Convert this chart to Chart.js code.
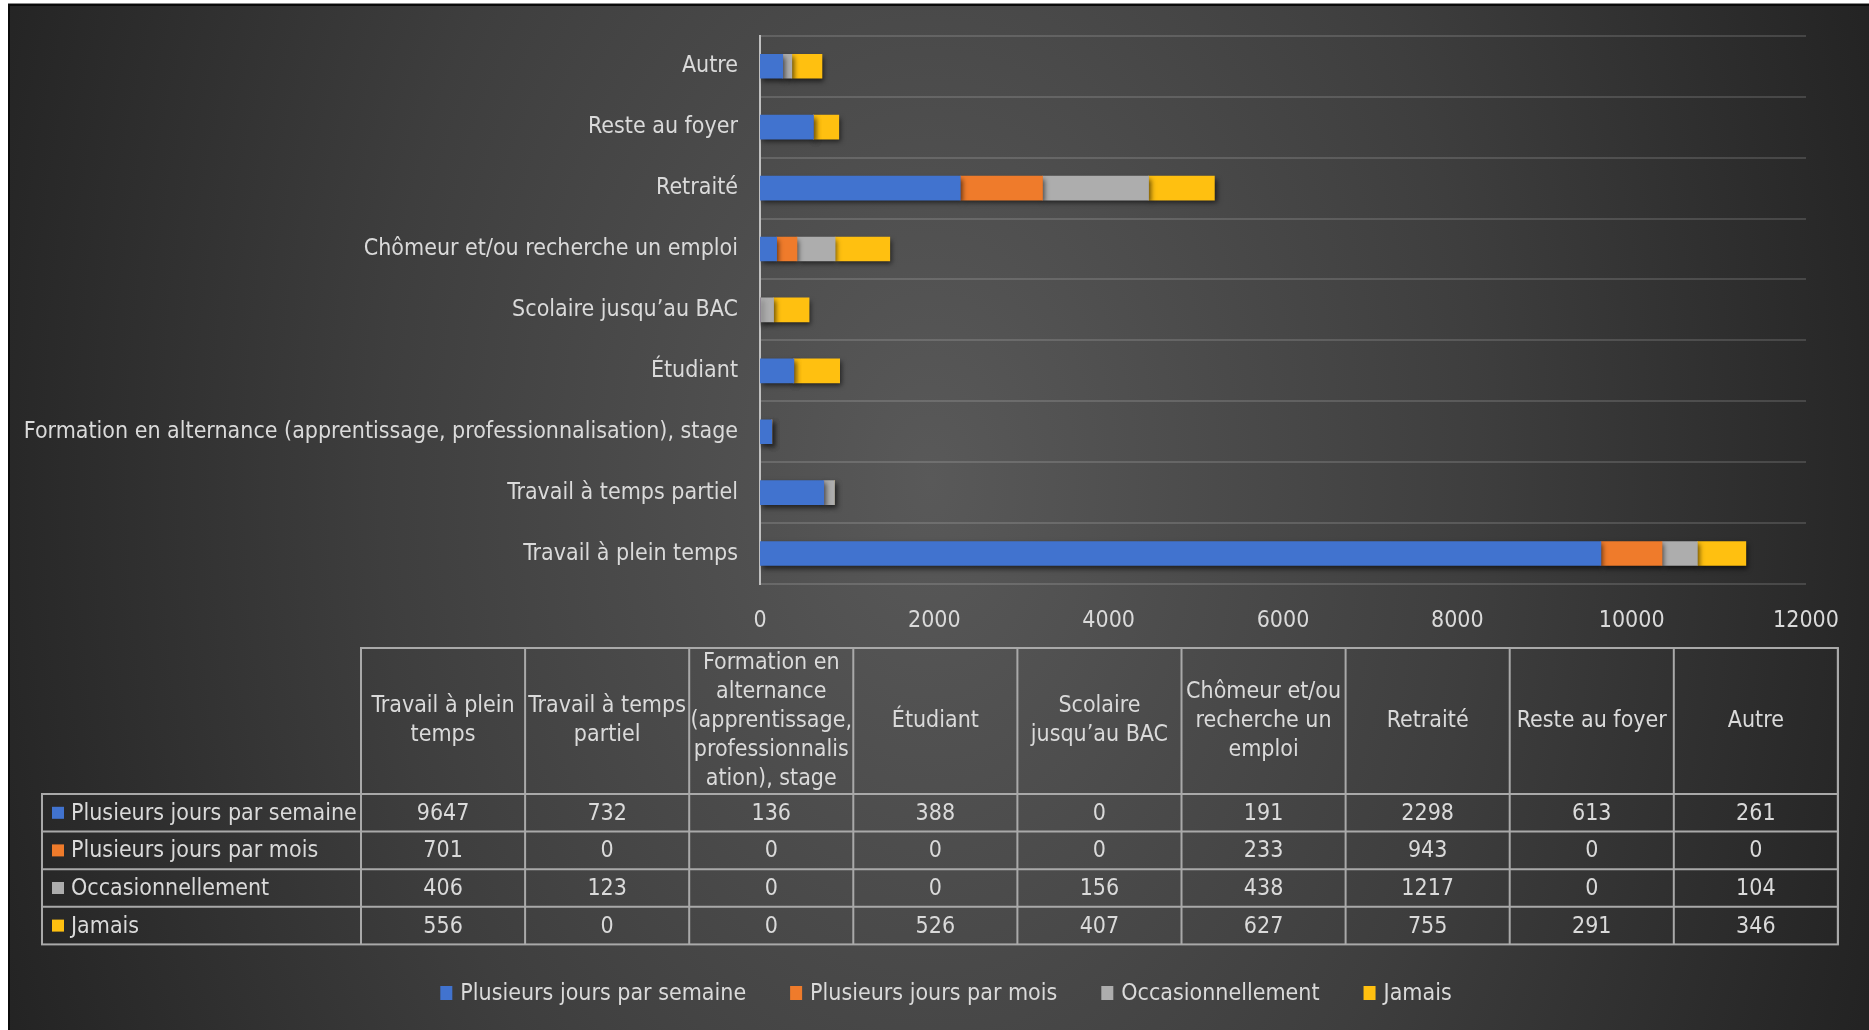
<!DOCTYPE html>
<html lang="fr">
<head>
<meta charset="utf-8">
<title>Fréquence selon la situation professionnelle</title>
<script src="https://cdn.jsdelivr.net/npm/chart.js@4.4.1/dist/chart.umd.min.js"></script>
<style>
  html, body { margin: 0; padding: 0; background: #fff; }
  #wrap { width: 1869px; height: 1030px; }
</style>
</head>
<body>
<div id="wrap"><canvas id="chart" width="1869" height="1030"></canvas></div>
<script>
'use strict';

/* --------------------------------------------------------------------------
   DATA
   -------------------------------------------------------------------------- */
const categories = [
    'Travail à plein temps',
    'Travail à temps partiel',
    'Formation en alternance (apprentissage, professionnalisation), stage',
    'Étudiant',
    'Scolaire jusqu’au BAC',
    'Chômeur et/ou recherche un emploi',
    'Retraité',
    'Reste au foyer',
    'Autre',
];
// header of the data table, wrapped the way the source wraps it
const tableHeaders = [
    ['Travail à plein', 'temps'],
    ['Travail à temps', 'partiel'],
    ['Formation en', 'alternance', '(apprentissage,', 'professionnalis', 'ation), stage'],
    ['Étudiant'],
    ['Scolaire', 'jusqu’au BAC'],
    ['Chômeur et/ou', 'recherche un', 'emploi'],
    ['Retraité'],
    ['Reste au foyer'],
    ['Autre'],
];
const seriesNames = ['Plusieurs jours par semaine', 'Plusieurs jours par mois', 'Occasionnellement', 'Jamais'];
const parSemaine = [9647, 732, 136, 388, 0, 191, 2298, 613, 261];
const parMois = [701, 0, 0, 0, 0, 233, 943, 0, 0];
const occasionnellement = [406, 123, 0, 0, 156, 438, 1217, 0, 104];
const jamais = [556, 0, 0, 526, 407, 627, 755, 291, 346];
const xTicks = [0, 2000, 4000, 6000, 8000, 10000, 12000];

const seriesValues = [parSemaine, parMois, occasionnellement, jamais];

/* --------------------------------------------------------------------------
   STYLE
   -------------------------------------------------------------------------- */
const FONT = "'DejaVu Sans Condensed', 'Liberation Sans Narrow', sans-serif";
const FONT_SIZE = 23;
const TEXT = '#dadada';
const COLORS = ['#4173CF', '#EF7B2B', '#ADADAD', '#FFC010'];
const LINE = '#a9a9a9';

// table / legend placement (px on the 1869x1030 canvas)
const TABLE = { left: 42, colLeft: 361, colW: 164.1, top: 648, headBottom: 794, rowH: 37.6, lineH: 29 };
const LEGEND = { cx: 946, y: 993, box: 12, gap: 8, spacing: 44 };

Chart.defaults.font.family = FONT;
Chart.defaults.font.size = FONT_SIZE;
Chart.defaults.color = TEXT;

/* --------------------------------------------------------------------------
   PLUGINS
   -------------------------------------------------------------------------- */
const backdrop = {
    id: 'backdrop',
    beforeDraw(chart) {
        const { ctx, width, height } = chart;
        ctx.save();
        ctx.fillStyle = '#ffffff';
        ctx.fillRect(0, 0, width, height);
        ctx.fillStyle = '#8a8a8a';
        ctx.fillRect(8, 3, width - 8, height - 3);
        ctx.fillStyle = '#0b0b0b';
        ctx.fillRect(8, 4, width - 8, height - 4);
        // soft radial light, wider than tall
        ctx.beginPath();
        ctx.rect(10, 6, width - 10, height - 6);
        ctx.clip();
        ctx.translate(930, 480);
        ctx.scale(1, 1.5);
        const g = ctx.createRadialGradient(0, 0, 0, 0, 0, 1000);
        g.addColorStop(0, '#595959');
        g.addColorStop(0.55, '#3e3e3e');
        g.addColorStop(1, '#232323');
        ctx.fillStyle = g;
        ctx.fillRect(-1000, -700, 2000, 1400);
        ctx.restore();
    },
};

const barShadow = {
    id: 'barShadow',
    beforeDatasetsDraw(chart) {
        const ctx = chart.ctx;
        ctx.save();
        ctx.shadowColor = 'rgba(0,0,0,0.6)';
        ctx.shadowBlur = 5;
        ctx.shadowOffsetX = 2;
        ctx.shadowOffsetY = 3;
    },
    afterDatasetsDraw(chart) {
        chart.ctx.restore();
    },
};

const dataTable = {
    id: 'dataTable',
    afterDraw(chart) {
        const ctx = chart.ctx;
        const t = TABLE;
        const nCol = categories.length;
        const right = t.colLeft + nCol * t.colW;
        const bottom = t.headBottom + seriesNames.length * t.rowH;

        ctx.save();
        ctx.strokeStyle = LINE;
        ctx.lineWidth = 2;

        // header grid (category columns only)
        ctx.strokeRect(t.colLeft, t.top, right - t.colLeft, t.headBottom - t.top);
        // body grid
        ctx.strokeRect(t.left, t.headBottom, right - t.left, bottom - t.headBottom);
        ctx.beginPath();
        for (let c = 0; c <= nCol; c++) {
            const x = t.colLeft + c * t.colW;
            ctx.moveTo(x, t.top);
            ctx.lineTo(x, bottom);
        }
        for (let r = 1; r < seriesNames.length; r++) {
            const y = t.headBottom + r * t.rowH;
            ctx.moveTo(t.left, y);
            ctx.lineTo(right, y);
        }
        ctx.stroke();

        ctx.font = `${FONT_SIZE}px ${FONT}`;
        ctx.fillStyle = TEXT;
        ctx.textAlign = 'center';
        ctx.textBaseline = 'middle';

        // header labels
        const headMid = (t.top + t.headBottom) / 2;
        tableHeaders.forEach((lines, c) => {
            const cx = t.colLeft + (c + 0.5) * t.colW;
            const y0 = headMid - (lines.length - 1) * t.lineH / 2;
            lines.forEach((line, k) => ctx.fillText(line, cx, y0 + k * t.lineH));
        });

        // rows
        seriesNames.forEach((name, r) => {
            const cy = t.headBottom + (r + 0.5) * t.rowH;
            ctx.fillStyle = COLORS[r];
            ctx.fillRect(t.left + 10, cy - 6, 12, 12);
            ctx.fillStyle = TEXT;
            ctx.textAlign = 'left';
            ctx.fillText(name, t.left + 29, cy + 1);
            ctx.textAlign = 'center';
            seriesValues[r].forEach((v, c) => {
                ctx.fillText(String(v), t.colLeft + (c + 0.5) * t.colW, cy + 1);
            });
        });

        // legend
        const L = LEGEND;
        const widths = seriesNames.map(n => L.box + L.gap + ctx.measureText(n).width);
        const total = widths.reduce((a, b) => a + b, 0) + L.spacing * (widths.length - 1);
        let x = L.cx - total / 2;
        ctx.textAlign = 'left';
        seriesNames.forEach((name, i) => {
            ctx.fillStyle = COLORS[i];
            ctx.fillRect(x, L.y - 7, L.box, 14);
            ctx.fillStyle = TEXT;
            ctx.fillText(name, x + L.box + L.gap, L.y + 1);
            x += widths[i] + L.spacing;
        });
        ctx.restore();
    },
};

/* --------------------------------------------------------------------------
   CHART
   -------------------------------------------------------------------------- */
const ctx = document.getElementById('chart').getContext('2d');

new Chart(ctx, {
    type: 'bar',
    data: {
        labels: categories,
        datasets: seriesNames.map((name, i) => ({
            label: name,
            data: seriesValues[i],
            backgroundColor: COLORS[i],
            borderWidth: 0,
            barThickness: 24,
        })),
    },
    options: {
        indexAxis: 'y',
        responsive: false,
        animation: false,
        devicePixelRatio: 1,
        layout: { padding: { top: 33, right: 63, bottom: 0, left: 0 } },
        plugins: {
            legend: { display: false },
            tooltip: { enabled: false },
        },
        scales: {
            x: {
                stacked: true,
                min: xTicks[0],
                max: xTicks[xTicks.length - 1],
                afterBuildTicks: s => { s.ticks = xTicks.map(v => ({ value: v })); },
                ticks: { padding: 15, color: TEXT, callback: v => String(v) },
                grid: { display: false },
                border: { display: false },
                afterFit: s => { s.height = 446; },
            },
            y: {
                stacked: true,
                reverse: true,
                ticks: { padding: 22, color: TEXT },
                grid: { color: 'rgba(255,255,255,0.14)', lineWidth: 2, drawTicks: false },
                border: { display: true, color: '#bfbfbf', width: 2 },
                afterFit: s => { s.width = 760; },
            },
        },
    },
    plugins: [backdrop, barShadow, dataTable],
});
</script>
</body>
</html>
